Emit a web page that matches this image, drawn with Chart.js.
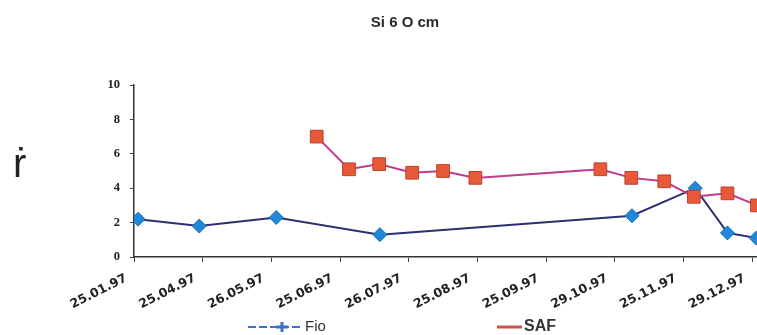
<!DOCTYPE html>
<html>
<head>
<meta charset="utf-8">
<script src="https://cdn.jsdelivr.net/npm/chart.js@4.4.1/dist/chart.umd.min.js"></script>
<style>
    body { margin: 0; background: #fff; overflow: hidden; }
    #wrap { position: relative; width: 757px; height: 335px; overflow: hidden; }
    #mark { position: absolute; left: 13px; top: 143px; font-size: 40px; line-height: 40px; font-family: "Liberation Sans Narrow", "Liberation Sans", sans-serif; color: #222; }
</style>
</head>
<body>
<div id="wrap">
    <canvas id="chart" width="757" height="335"></canvas>
    <div id="mark">ṙ</div>
</div>
<script>
// tick labels on the date axis (one per month step)
var tickLabels = ["25.01.97", "25.04.97", "26.05.97", "25.06.97", "26.07.97", "25.08.97", "25.09.97", "29.10.97", "25.11.97", "29.12.97"];

// Fio series (x = position in month steps, y = value)
var fioX = [0.06, 0.95, 2.07, 3.58, 7.25, 8.17, 8.64, 9.06];
var fioY = [2.2, 1.8, 2.3, 1.3, 2.4, 4.0, 1.4, 1.1];

// SAF series
var safX = [2.66, 3.13, 3.57, 4.05, 4.50, 4.97, 6.79, 7.24, 7.72, 8.15, 8.64, 9.07];
var safY = [7.0, 5.1, 5.4, 4.9, 5.0, 4.6, 5.1, 4.6, 4.4, 3.5, 3.7, 3.0];

var yTicks = [0, 2, 4, 6, 8, 10];

function toPoints(xs, ys) {
    var pts = [];
    for (var i = 0; i < xs.length; i++) {
        pts.push({ x: xs[i], y: ys[i] });
    }
    return pts;
}

// title (sits a bit right of centre) and legend under the axis labels
var extras = {
    id: "extras",
    afterDraw: function(chart) {
        var ctx = chart.ctx;
        ctx.save();
        ctx.textBaseline = "middle";

        ctx.fillStyle = "#2a2a2a";
        ctx.textAlign = "center";
        ctx.font = "bold 15px 'Liberation Sans Narrow', 'Liberation Sans'";
        ctx.fillText("Si 6 O cm", 405, 23);
        ctx.textAlign = "left";

        // Fio: dashed blue line with a cross
        ctx.strokeStyle = "#3d72c6";
        ctx.lineWidth = 2;
        ctx.setLineDash([8, 3]);
        ctx.beginPath();
        ctx.moveTo(248, 327);
        ctx.lineTo(302, 327);
        ctx.stroke();
        ctx.setLineDash([]);
        ctx.lineWidth = 3;
        ctx.beginPath();
        ctx.moveTo(276, 327);
        ctx.lineTo(288, 327);
        ctx.moveTo(282, 322);
        ctx.lineTo(282, 332);
        ctx.stroke();
        ctx.fillStyle = "#333";
        ctx.font = "15px 'Liberation Sans'";
        ctx.fillText("Fio", 305, 327);

        // SAF: solid red line
        ctx.strokeStyle = "#cf5242";
        ctx.lineWidth = 3;
        ctx.beginPath();
        ctx.moveTo(497, 327);
        ctx.lineTo(522, 327);
        ctx.stroke();
        ctx.font = "bold 16px 'Liberation Sans'";
        ctx.fillText("SAF", 524, 327);

        ctx.restore();
    }
};

const data = {
    datasets: [{
        label: "Fio",
        data: toPoints(fioX, fioY),
        borderColor: "#2d2f6e",
        borderWidth: 2,
        pointStyle: "rectRot",
        pointRadius: 7,
        pointBackgroundColor: "#1f88d9",
        pointBorderColor: "#1a6db5",
        pointBorderWidth: 1,
        order: 1
    }, {
        label: "SAF",
        data: toPoints(safX, safY),
        borderColor: "#c23a8e",
        borderWidth: 2,
        pointStyle: "rect",
        pointRadius: 9,
        pointBackgroundColor: "#e8593a",
        pointBorderColor: "#b8442c",
        pointBorderWidth: 1,
        order: 0
    }]
};

const config = {
    type: "line",
    data: data,
    options: {
        responsive: false,
        animation: false,
        devicePixelRatio: 1,
        layout: {
            autoPadding: false,
            padding: { left: 0, right: 0, top: 85, bottom: 0 }
        },
        scales: {
            x: {
                type: "linear",
                min: 0,
                max: 9.07,
                afterFit: function(scale) {
                    scale.height = 78;
                    scale.paddingLeft = 0;
                    scale.paddingRight = 0;
                },
                ticks: {
                    stepSize: 1,
                    includeBounds: false,
                    autoSkip: false,
                    minRotation: 27,
                    maxRotation: 27,
                    padding: 5,
                    color: "#222",
                    font: { family: "DejaVu Sans", size: 12.5, weight: "bold" },
                    callback: function(value) {
                        // trailing spaces nudge the label a little left of its tick
                        return tickLabels[value] ? tickLabels[value] + "  " : "";
                    }
                },
                grid: { drawOnChartArea: false, drawTicks: true, tickLength: 5, color: "#444" },
                border: { color: "#333", width: 1.5 }
            },
            y: {
                min: 0,
                max: 10,
                afterFit: function(scale) {
                    scale.width = 134;
                },
                afterBuildTicks: function(scale) {
                    scale.ticks = yTicks.map(function(v) { return { value: v }; });
                },
                ticks: {
                    padding: 10,
                    color: "#222",
                    font: { family: "Liberation Serif", size: 12.5, weight: "bold" }
                },
                grid: { drawOnChartArea: false, drawTicks: true, tickLength: 4, color: "#444" },
                border: { color: "#333", width: 1.5 }
            }
        },
        plugins: {
            legend: { display: false },
            tooltip: { enabled: false },
            title: { display: false }
        }
    },
    plugins: [extras]
};

var chart = new Chart(document.getElementById("chart"), config);
</script>
</body>
</html>
